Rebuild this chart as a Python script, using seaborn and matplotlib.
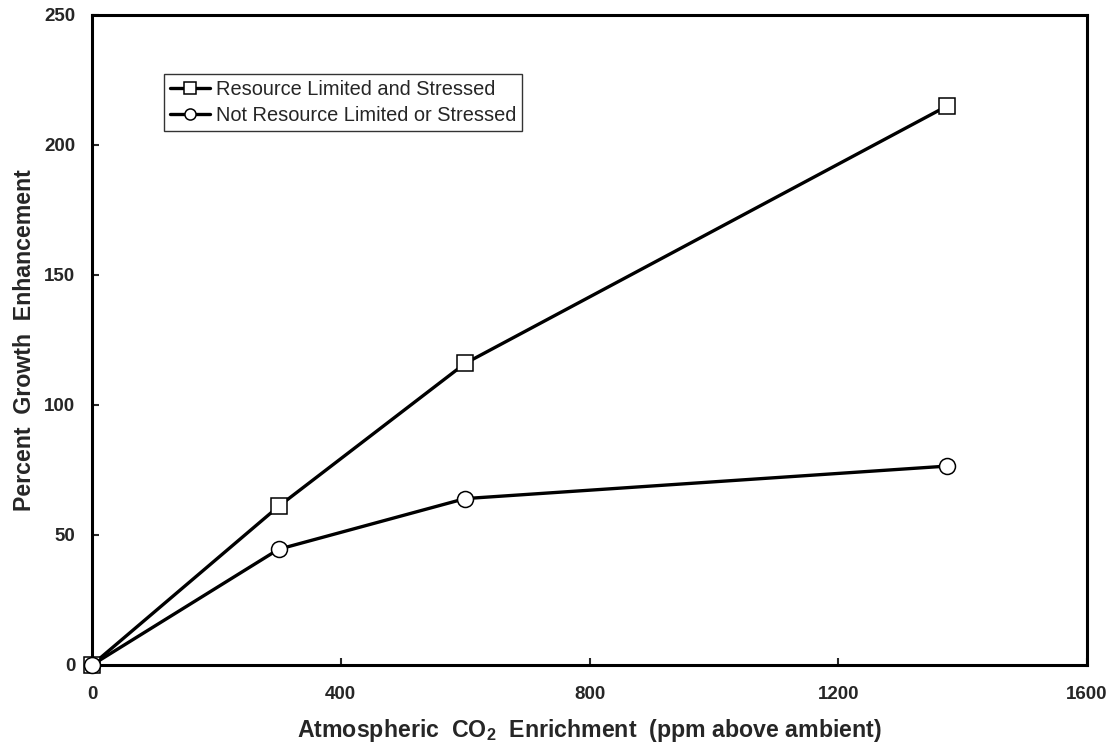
import numpy as np
import pandas as pd
import seaborn as sns
import matplotlib.pyplot as plt

# values
co2_enrichment = [0, 300, 600, 1375]
stressed = [0, 61, 116, 215]
not_stressed = [0, 44.5, 64, 76.5]
series_names = ['Resource Limited and Stressed', 'Not Resource Limited or Stressed']
x_ticks = [0, 400, 800, 1200, 1600]
y_ticks = [0, 50, 100, 150, 200, 250]

data = pd.DataFrame({
    'CO2': co2_enrichment * 2,
    'Growth': stressed + not_stressed,
    'Series': np.repeat(series_names, len(co2_enrichment))
})

sns.set_style('white')
plt.rcParams['font.family'] = ['Liberation Sans', 'DejaVu Sans']
plt.rcParams['mathtext.fontset'] = 'custom'
plt.rcParams['mathtext.bf'] = 'Liberation Sans:bold'
plt.rcParams['mathtext.rm'] = 'Liberation Sans'

fig = plt.figure(figsize=(11.18, 7.46), dpi=100)
ax = fig.add_axes([0.0823, 0.1086, 0.890, 0.8713])

sns.lineplot(data=data, x='CO2', y='Growth', hue='Series', style='Series',
             palette=['black', 'black'], markers=['s', 'o'], dashes=False,
             markersize=11.5, markerfacecolor='white', markeredgecolor='black',
             markeredgewidth=1.1, linewidth=2.4, ax=ax, clip_on=False, zorder=3)

ax.set_xlim(0, 1600)
ax.set_ylim(0, 250)
ax.set_xticks(x_ticks)
ax.set_yticks(y_ticks)
ax.tick_params(axis='both', direction='in', length=5, width=1.5, labelsize=13.5)
ax.tick_params(axis='x', pad=15)
ax.tick_params(axis='y', pad=12)
ax.tick_params(bottom=True, left=True)
for lbl in ax.get_xticklabels() + ax.get_yticklabels():
    lbl.set_fontweight('bold')
for sp in ax.spines.values():
    sp.set_linewidth(2.2)
    sp.set_color('black')

ax.set_xlabel('Atmospheric  CO$_\\mathbf{2}$  Enrichment  (ppm above ambient)',
              fontsize=16.7, fontweight='bold', labelpad=10)
ax.set_ylabel('Percent  Growth  Enhancement', fontsize=16.7, fontweight='bold', labelpad=6)

leg = ax.legend(loc='upper left', bbox_to_anchor=(0.0724, 0.909), fontsize=14.4,
                frameon=True, fancybox=False, edgecolor='black', handlelength=2.0,
                handletextpad=0.3, borderpad=0.3, labelspacing=0.35, borderaxespad=0)
leg.get_frame().set_linewidth(1.0)
for h in leg.legend_handles:
    h.set_markersize(8)

fig.savefig('out.png', dpi=100)
